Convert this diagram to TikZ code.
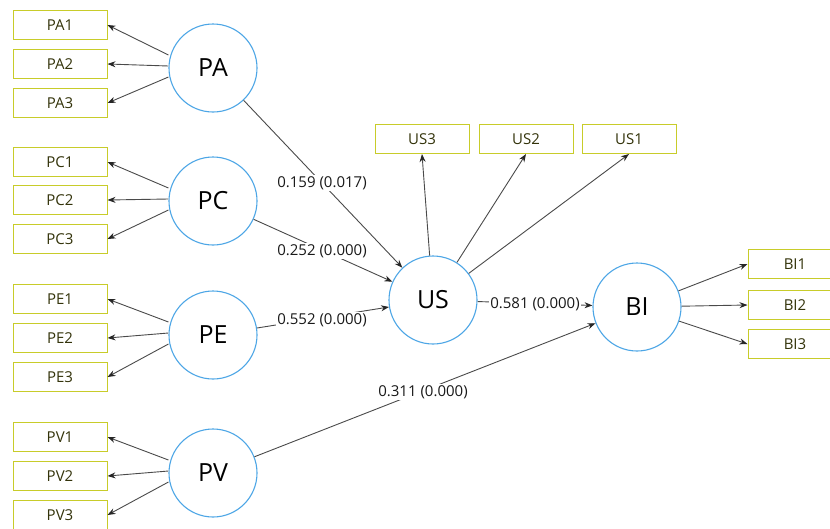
\documentclass[tikz,border=0pt]{standalone}
\usepackage{fontspec}
\setmainfont{Open Sans}
\usetikzlibrary{arrows.meta}
\definecolor{boxcol}{HTML}{C8CC2A}
\definecolor{boxtxt}{HTML}{33330A}
\definecolor{circcol}{HTML}{4DA6E6}
\definecolor{linecol}{HTML}{4A4A4A}
\tikzset{
  ind/.style={draw=boxcol, line width=1pt, minimum width=94pt, minimum height=29pt, inner sep=0pt, text=boxtxt, font=\fontsize{15}{15}\selectfont},
  lat/.style={circle, draw=circcol, line width=1.1pt, minimum size=88pt, inner sep=0pt, font=\fontsize{25}{25}\selectfont, fill=white},
  conn/.style={draw=linecol, line width=0.9pt, -{Stealth[length=8pt,width=6pt,color=black!85]}},
  lbl/.style={fill=white, inner sep=1.5pt, font=\fontsize{15}{15}\selectfont, text=black!90}
}
\begin{document}
\begin{tikzpicture}[x=1pt,y=-1pt]
\useasboundingbox (0,0) rectangle (830,528);
\clip (0,0) rectangle (830,528);
% latent variables
\node[lat] (PA) at (213,68) {PA};
\node[lat] (PC) at (213,201) {PC};
\node[lat] (PE) at (213,335) {PE};
\node[lat] (PV) at (213,473) {PV};
\node[lat] (US) at (433,300) {US};
\node[lat] (BI) at (637,307) {BI};
% indicators
\node[ind] (PA1) at (60,25) {PA1};
\node[ind] (PA2) at (60,64) {PA2};
\node[ind] (PA3) at (60,103) {PA3};
\node[ind] (PC1) at (60,162) {PC1};
\node[ind] (PC2) at (60,200) {PC2};
\node[ind] (PC3) at (60,239) {PC3};
\node[ind] (PE1) at (60,299) {PE1};
\node[ind] (PE2) at (60,338) {PE2};
\node[ind] (PE3) at (60,377) {PE3};
\node[ind] (PV1) at (60,437) {PV1};
\node[ind] (PV2) at (60,476) {PV2};
\node[ind] (PV3) at (60,515) {PV3};
\node[ind] (US3) at (422,139) {US3};
\node[ind] (US2) at (526,139) {US2};
\node[ind] (US1) at (629,139) {US1};
\node[ind] (BI1) at (795,264) {BI1};
\node[ind] (BI2) at (795,305) {BI2};
\node[ind] (BI3) at (795,344) {BI3};
% measurement arrows
\foreach \l in {PA,PC,PE,PV}{
  \draw[conn] ([yshift=13pt]\l.west) -- (\l1.east);
  \draw[conn] ([yshift=2pt]\l.west) -- (\l2.east);
  \draw[conn] ([yshift=-9pt]\l.west) -- (\l3.east);
}
\draw[conn] (US) -- (US3.south);
\draw[conn] (US) -- (US2.south);
\draw[conn] (US) -- (US1.south);
\draw[conn] (BI) -- (BI1.west);
\draw[conn] (BI) -- (BI2.west);
\draw[conn] (BI) -- (BI3.west);
% structural paths
\draw[conn] (PA) -- (US);
\draw[conn] (PC) -- (US);
\draw[conn] (PE) -- (US);
\draw[conn] (US) -- (BI);
\draw[conn] (PV) -- (BI);
% path labels
\node[lbl] (l1) at (322,183) {0.159 (0.017)};
\node[lbl] (l2) at (322,251) {0.252 (0.000)};
\node[lbl] (l3) at (322,320) {0.552 (0.000)};
\node[lbl] (l4) at (535,304) {0.581 (0.000)};
\node[lbl] (l5) at (423,392) {0.311 (0.000)};
\end{tikzpicture}
\end{document}
